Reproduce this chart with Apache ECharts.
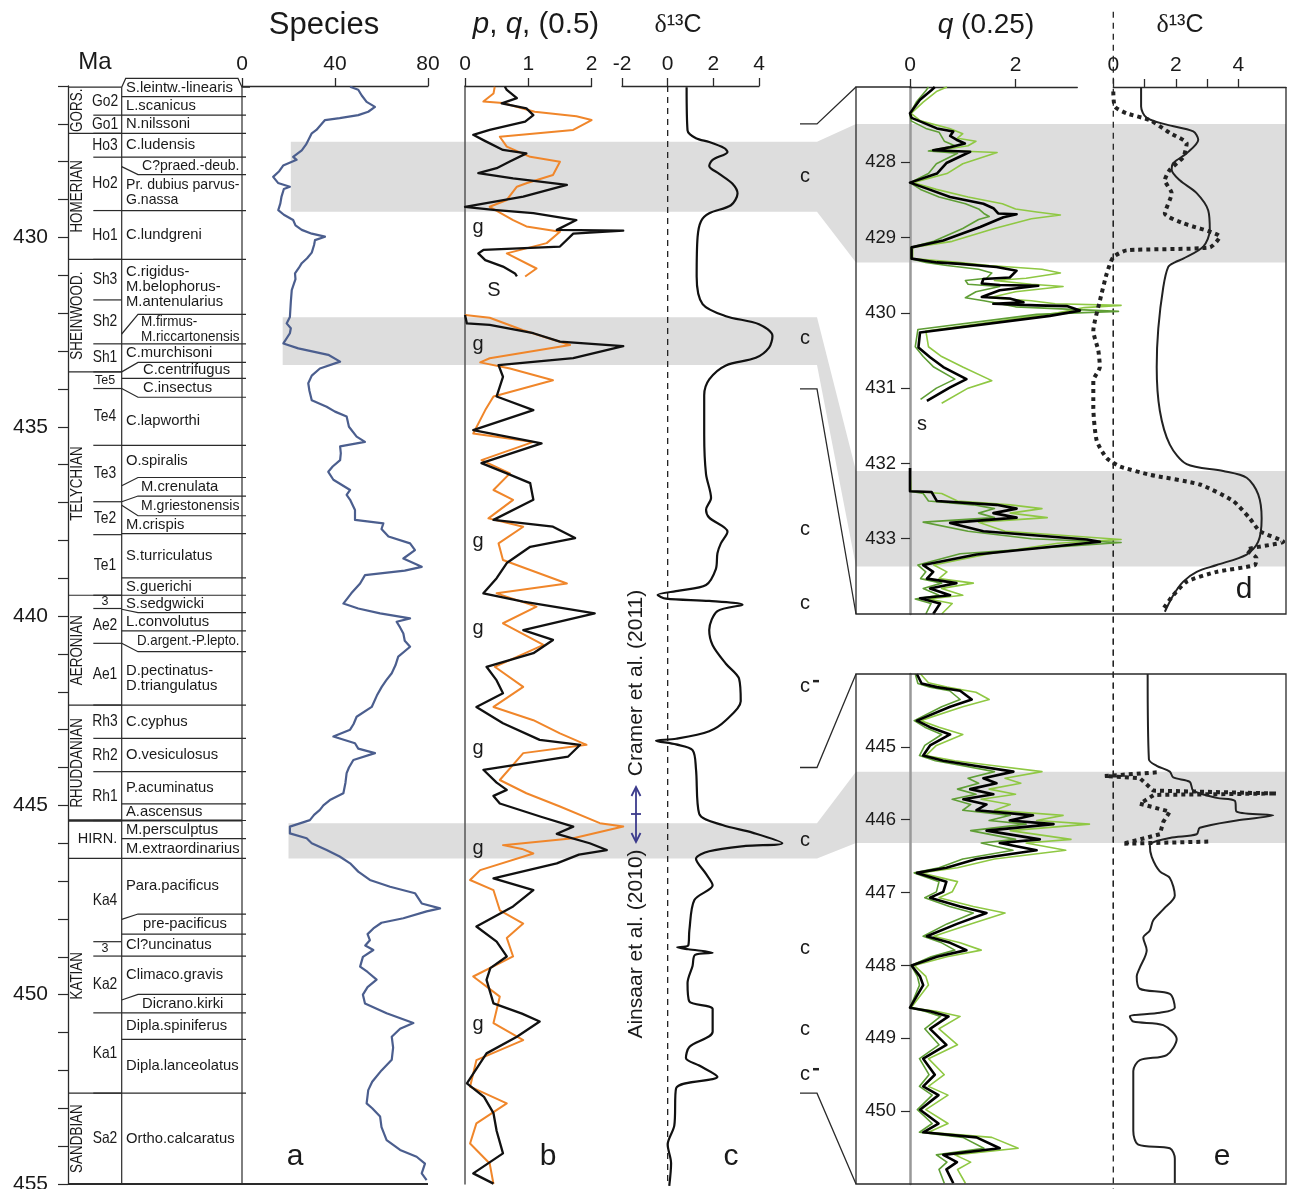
<!DOCTYPE html>
<html><head><meta charset="utf-8">
<script src="https://cdn.jsdelivr.net/npm/echarts@6/dist/echarts.min.js"></script>
<style>html,body{margin:0;padding:0;background:#fff}#c{width:1292px;height:1189px}</style>
</head><body><div id="c"></div>
<script>
// ---------------- DATA ----------------
const maTickValues = [426,427,428,429,430,431,432,433,434,435,436,437,438,439,440,441,442,443,444,445,446,447,448,449,450,451,452,453,454,455];
const maLabelValues = [430,435,440,445,450,455];
const dTickValues = [428,429,430,431,432,433];
const eTickValues = [445,446,447,448,449,450];

// stages: [topMa, bottomMa, name]
const stages = [
 [426.03,427.25,'GORS.'],[427.25,430.58,'HOMERIAN'],[430.58,433.55,'SHEINWOOD.'],
 [433.55,439.45,'TELYCHIAN'],[439.45,442.35,'AERONIAN'],[442.35,445.4,'RHUDDANIAN'],
 [445.4,446.4,'HIRN.'],[446.4,452.6,'KATIAN'],[452.6,455,'SANDBIAN']
];
// codes: [topMa, bottomMa, code]
const codes = [
 [426.03,426.77,'Go2'],[426.77,427.25,'Go1'],
 [427.25,427.88,'Ho3'],[427.88,429.29,'Ho2'],[429.29,430.58,'Ho1'],
 [430.58,431.65,'Sh3'],[431.65,432.81,'Sh2'],[432.81,433.55,'Sh1'],
 [433.55,433.99,'Te5'],[433.99,435.49,'Te4'],[435.49,436.98,'Te3'],[436.98,437.85,'Te2'],[437.85,439.45,'Te1'],
 [439.45,439.8,'3'],[439.8,440.72,'Ae2'],[440.72,442.35,'Ae1'],
 [442.35,443.23,'Rh3'],[443.23,444.11,'Rh2'],[444.11,445.4,'Rh1'],
 [446.4,448.6,'Ka4'],[448.6,448.98,'3'],[448.98,450.48,'Ka2'],[450.48,452.6,'Ka1'],
 [452.6,455,'Sa2']
];
// zones: [topMa(right), bottomMa(right), bottomMa(left), name]
const zones = [
 [425.8,426.28,426.28,'S.leintw.-linearis'],
 [426.28,426.77,426.77,'L.scanicus'],
 [426.77,427.25,427.25,'N.nilssoni'],
 [427.25,427.88,427.88,'C.ludensis'],
 [427.88,428.34,428.13,'C?praed.-deub.'],
 [428.34,429.29,429.29,'Pr. dubius parvus-\nG.nassa'],
 [429.29,430.58,430.58,'C.lundgreni'],
 [430.58,432.03,432.55,'C.rigidus-\nM.belophorus-\nM.antenularius'],
 [432.03,432.81,432.81,'M.firmus-\nM.riccartonensis'],
 [432.81,433.3,433.55,'C.murchisoni'],
 [433.3,433.72,433.72,'C.centrifugus'],
 [433.72,434.22,433.99,'C.insectus'],
 [434.22,435.49,435.49,'C.lapworthi'],
 [435.49,436.34,436.56,'O.spiralis'],
 [436.34,436.83,436.98,'M.crenulata'],
 [436.83,437.35,437.07,'M.griestonensis'],
 [437.35,437.82,437.82,'M.crispis'],
 [437.82,438.99,438.99,'S.turriculatus'],
 [438.99,439.45,439.45,'S.guerichi'],
 [439.45,439.91,439.82,'S.sedgwicki'],
 [439.91,440.39,440.39,'L.convolutus'],
 [440.39,440.94,440.72,'D.argent.-P.lepto.'],
 [440.94,442.35,442.35,'D.pectinatus-\nD.triangulatus'],
 [442.35,443.23,443.23,'C.cyphus'],
 [443.23,444.11,444.11,'O.vesiculosus'],
 [444.11,444.96,444.96,'P.acuminatus'],
 [444.96,445.4,445.4,'A.ascensus'],
 [445.4,445.88,445.88,'M.persculptus'],
 [445.88,446.4,446.4,'M.extraordinarius'],
 [446.4,447.87,448.01,'Para.pacificus'],
 [447.87,448.4,448.4,'pre-pacificus'],
 [448.4,448.98,448.98,'Cl?uncinatus'],
 [448.98,449.99,450.14,'Climaco.gravis'],
 [449.99,450.48,450.48,'Dicrano.kirki'],
 [450.48,451.18,451.18,'Dipla.spiniferus'],
 [451.18,452.6,452.6,'Dipla.lanceolatus'],
 [452.6,455,455,'Ortho.calcaratus']
];

// species: [Ma, count]
const speciesData = [
 [426.02,46.5],[426.1,50],[426.25,51.5],[426.42,53.6],[426.55,57.2],[426.68,54.3],[426.77,50],[426.85,42],[426.9,35.7],
 [427.16,32],[427.25,30],[427.43,28.5],[427.55,27.5],[427.7,25.7],[427.87,22],[427.95,23.5],[428.1,17.7],[428.25,16],
 [428.4,13.4],[428.56,15.5],[428.66,20.6],[428.72,18],[428.92,17],[429.1,16.5],[429.28,15.6],[429.4,18],[429.54,22],
 [429.68,23],[429.8,25.7],[429.9,30],[429.98,35.7],[430.07,31.4],[430.2,31],[430.4,30],[430.55,28],[430.68,25.7],
 [430.8,24.5],[430.95,22.8],[431.1,23],[431.39,21.4],[431.7,21],[432.1,20.6],[432.27,19.2],[432.4,21],[432.53,20.6],
 [432.8,17.8],[432.93,24.2],[433.1,37.1],[433.28,42.2],[433.46,33.5],[433.65,30],[433.85,28.5],[434.05,29],[434.3,30],
 [434.47,36.4],[434.6,40],[434.73,45],[435.0,46],[435.26,49.3],[435.4,52.9],[435.52,42.2],[435.7,42.5],[435.88,42.2],
 [436.05,39],[436.19,37.1],[436.4,39.3],[436.67,46.5],[436.8,45],[436.93,46.5],[437.2,48.6],[437.46,48.6],[437.55,60.8],
 [437.7,60],[437.9,63],[438.08,72.3],[438.26,74.4],[438.48,69.4],[438.7,77.3],[438.8,70],[438.92,52.9],[439.14,50.8],
 [439.4,47],[439.67,43.6],[439.8,50],[439.93,59.4],[440.06,72.3],[440.15,66.5],[440.3,68],[440.46,69.4],[440.65,70],
 [440.81,72.3],[441.07,67.2],[441.3,66],[441.51,64.4],[441.7,62],[441.87,60.1],[442.1,58],[442.4,55.8],[442.66,49.3],
 [442.85,48],[443.0,46.5],[443.18,39.3],[443.36,48.6],[443.5,50],[443.62,57.2],[443.8,47.9],[444.0,46],[444.15,45],
 [444.4,44.5],[444.68,43.6],[444.86,37.8],[445.0,35],[445.12,33.5],[445.25,31],[445.39,29.2],[445.56,20.6],[445.74,20.6],
 [445.87,27.8],[446.0,30],[446.18,36.4],[446.35,42],[446.53,46.5],[446.75,50],[446.97,55],[447.15,63.7],[447.32,74.4],
 [447.59,77.3],[447.72,85.2],[447.8,79.4],[447.98,69.4],[448.1,60],[448.25,56.5],[448.4,54],[448.56,55],[448.7,53],
 [448.82,56.5],[449.0,52],[449.26,50.8],[449.4,54],[449.6,57.9],[449.8,54],[450.0,52],[450.23,52.9],[450.49,62.2],
 [450.75,73.7],[450.9,68],[451.11,64.4],[451.4,65],[451.72,64.4],[452.0,60],[452.3,56],[452.52,54.3],[452.87,53.6],
 [453.0,56],[453.22,59.4],[453.5,60],[453.84,62.2],[454.1,68],[454.28,75.1],[454.46,78.7],[454.72,77.3],[454.9,79.4]
];

// p, q (0.5): [Ma, value]
const bBlackTop = [
 [426.02,0.63],[426.1,0.66],[426.32,0.82],[426.46,0.58],[426.59,0.97],[426.77,1.08],[426.94,0.95],[427.16,0.39],
 [427.29,0.13],[427.43,0.29],[427.69,0.6],[427.78,0.97],[428.0,0.7],[428.17,0.5],[428.3,0.21],[428.44,0.76],
 [428.61,1.61],[428.92,0.92],[429.19,0],[429.27,0.45],[429.36,1.08],[429.54,1.76],[429.8,1.45],[429.82,2.5],
 [429.9,1.71],[430.24,1.5],[430.33,0.29],[430.42,0.21],[430.6,0.32],[430.77,0.6],[430.95,0.79],[431.03,0.82]
];
const bOrangeTop = [
 [426.02,0.47],[426.2,0.45],[426.41,0.29],[426.45,0.6],[426.68,1.1],[426.8,1.76],[426.9,2.0],[427.16,1.71],
 [427.34,0.55],[427.6,0.66],[427.87,1.03],[428.0,1.5],[428.35,1.39],[428.57,0.97],[428.66,0.82],[429.01,0.66],
 [429.19,0.39],[429.54,0.76],[429.71,0.97],[429.85,1.5],[430.15,1.29],[430.42,0.66],[430.82,1.13],[431.03,0.95]
];
const bBlackBot = [
 [432.05,0],[432.27,0.03],[432.31,0.39],[432.53,1.08],[432.75,1.5],[432.87,2.5],[433.19,1.71],[433.37,0.53],
 [433.68,0.6],[434.2,0.5],[434.56,1.08],[435.09,0.13],[435.44,1.21],[435.96,0.26],[436.23,0.66],[436.49,1.03],
 [436.93,1.08],[437.46,0.45],[437.64,1.39],[437.94,1.74],[438.17,1.03],[438.6,0.66],[439.0,0.5],[439.4,0.29],
 [439.62,0.92],[439.93,2.05],[440.37,0.92],[440.63,1.39],[440.98,1.08],[441.34,0.34],[441.7,0.5],[442.04,0.6],
 [442.4,0.18],[442.83,0.6],[443.27,1.18],[443.4,1.82],[443.71,1.63],[444.06,0.29],[444.4,0.5],[444.59,0.66],
 [444.75,0.45],[444.95,0.55],[445.3,1.2],[445.56,1.71],[445.75,1.45],[446.0,1.97],[446.18,2.24],[446.3,1.8],
 [446.53,1.45],[446.93,0.45],[447.24,1.08],[447.67,0.76],[448.2,0.18],[448.6,0.5],[448.99,0.66],[449.3,0.4],
 [449.61,0.34],[450.23,0.45],[450.5,0.9],[450.71,1.18],[451.11,0.82],[451.55,0.34],[452.34,0.03],[452.7,0.3],
 [453.13,0.45],[453.6,0.5],[454.19,0.6],[454.72,0.13],[454.99,0.45]
];
const bOrangeBot = [
 [432.05,0],[432.12,0.39],[432.45,0.92],[432.84,1.66],[433.19,0.39],[433.3,0.24],[433.46,0.71],[433.77,1.39],
 [434.2,0.45],[434.56,0.32],[435.18,0.13],[435.4,1.08],[435.88,0.26],[436.23,0.71],[436.67,0.45],[436.93,0.76],
 [437.42,0.37],[437.64,0.92],[438.08,0.53],[438.52,0.6],[439.14,1.61],[439.4,0.5],[439.75,1.13],[440.19,0.6],
 [440.76,1.24],[441.34,0.47],[441.87,0.92],[442.4,0.45],[442.75,1.08],[443.1,1.5],[443.4,1.92],[443.62,0.92],
 [444.33,0.55],[444.68,0.97],[445.03,1.5],[445.47,2.13],[445.56,2.5],[445.87,1.71],[446.05,0.6],[446.15,0.9],
 [446.27,1.08],[446.71,0.24],[446.97,0.08],[447.24,0.45],[447.77,0.55],[448.12,0.92],[448.5,0.66],[448.99,0.76],
 [449.52,0.13],[450.05,0.55],[450.4,0.5],[450.75,0.45],[451.2,0.92],[451.73,0.18],[452.43,0.08],[452.87,0.66],
 [453.4,0.18],[453.93,0.08],[454.46,0.39],[455.0,0.45]
];

// delta13C composite: [Ma, permil]
const c13Main = [
 [426.03,0.83],[427.17,0.87],[427.38,1.24],[427.48,1.82],[427.64,2.48],[427.74,2.62],[427.95,1.97],[428.11,1.82],
 [428.32,2.26],[428.58,2.84],[428.84,3.06],[429.15,2.77],[429.36,1.82],[429.57,1.46],[429.99,1.31],[431.03,1.27],
 [431.76,1.53],[432.08,2.55],[432.29,4.0],[432.6,4.59],[432.91,4.44],[433.18,3.86],[433.38,2.55],[433.75,1.82],
 [434.17,1.6],[435.21,1.6],[436.25,1.68],[436.88,1.9],[437.19,1.68],[437.4,1.82],[437.77,2.62],[438.08,2.33],
 [438.34,2.18],[438.76,2.11],[439.18,1.68],[439.33,0.51],[439.44,-0.44],[439.54,-0.07],[439.6,1.82],[439.7,3.28],
 [439.87,2.18],[440.37,1.82],[440.77,1.97],[441.26,2.55],[441.66,3.13],[442.25,3.2],[442.75,2.55],[443.04,1.82],
 [443.24,0.37],[443.29,-0.51],[443.39,0.37],[443.54,1.09],[444.04,1.24],[445.22,1.38],[445.52,2.4],[445.72,3.71],
 [446.0,5.02],[446.07,3.42],[446.21,1.82],[446.41,1.24],[446.81,1.68],[447.11,1.97],[447.5,1.17],[448.3,0.95],
 [448.7,0.9],[448.75,0.42],[448.8,0.9],[448.89,1.97],[448.95,1.2],[449.24,1.09],[449.69,0.87],[450.18,0.95],
 [450.38,1.97],[450.98,1.97],[451.38,0.95],[451.67,0.8],[451.87,1.38],[452.17,2.18],[452.47,0.37],[453.46,0.29],
 [453.96,0],[454.45,0.15],[455.05,0.07]
];
const zeroLine = [[426,0],[455,0]];

// panel d  q (0.25): [Ma, value]
const dBlackTop = [
 [427.0,0.47],[427.04,0.41],[427.17,0.19],[427.35,0],[427.41,0.03],[427.55,0.51],[427.59,0.82],[427.65,0.76],
 [427.7,0.88],[427.75,1.04],[427.8,0.76],[427.84,0.44],[427.86,1.14],[428.01,0.69],[428.15,0.51],[428.27,0],
 [428.35,0.32],[428.46,0.76],[428.55,1.39],[428.61,1.58],[428.68,1.67],[428.69,2.02],[428.73,1.77],[428.86,1.33],
 [429.04,0.63],[429.13,0.03],[429.28,0.03],[429.33,0.51],[429.35,0.95],[429.39,1.64],[429.44,2.02],[429.53,1.89],
 [429.55,1.39],[429.61,1.36],[429.63,1.7],[429.64,2.43],[429.7,1.7],[429.79,1.36],[429.81,1.89],[429.86,2.15],
 [429.88,1.58],[429.9,2.4],[429.91,2.97],[429.97,3.22],[430.04,2.65],[430.26,0.19],[430.46,0.16],[430.59,0.38],
 [430.72,0.63],[430.88,1.07],[430.99,0.76],[431.17,0.32]
];
const dBlackBot = [
 [432.06,0],[432.37,0],[432.38,0.41],[432.5,0.51],[432.55,1.64],[432.6,2.02],[432.66,1.58],[432.72,2.02],
 [432.79,0.76],[432.9,1.39],[433.01,3.35],[433.04,3.6],[433.21,1.26],[433.35,0.25],[433.44,0.44],[433.53,0.32],
 [433.59,0.88],[433.66,0.38],[433.75,0.76],[433.79,0.19],[433.86,0.57],[434.0,0.44]
];
const dGreenATop = [
 [427.0,0.7],[427.06,0.5],[427.2,0.25],[427.35,0.02],[427.45,0.2],[427.55,0.75],[427.62,1.0],[427.68,0.9],
 [427.72,1.25],[427.78,1.1],[427.84,0.55],[427.87,1.65],[428.02,1.0],[428.15,0.7],[428.27,0.05],[428.36,0.5],
 [428.46,1.1],[428.55,1.75],[428.62,2.0],[428.66,2.4],[428.7,2.85],[428.75,2.3],[428.88,1.6],[429.05,0.8],
 [429.13,0.05],[429.28,0.05],[429.33,0.9],[429.37,1.5],[429.42,2.5],[429.47,2.85],[429.54,2.2],[429.57,1.6],
 [429.62,2.3],[429.65,2.9],[429.72,2.0],[429.8,1.5],[429.84,2.3],[429.88,2.75],[429.9,4.0],[429.93,3.3],
 [430.0,2.8],[430.24,0.3],[430.45,0.35],[430.58,0.6],[430.72,1.0],[430.9,1.55],[431.0,1.1],[431.2,0.6]
];
const dGreenBTop = [
 [427.0,0.35],[427.05,0.3],[427.2,0.12],[427.35,0],[427.45,0.02],[427.55,0.3],[427.6,0.55],[427.66,0.6],
 [427.72,0.65],[427.78,0.85],[427.82,0.55],[427.85,0.35],[427.88,0.9],[428.02,0.5],[428.15,0.35],[428.27,0],
 [428.36,0.2],[428.46,0.55],[428.55,1.05],[428.62,1.3],[428.68,1.4],[428.72,1.5],[428.76,1.3],[428.88,1.0],
 [429.05,0.45],[429.13,0.02],[429.28,0.02],[429.33,0.3],[429.37,0.7],[429.42,1.3],[429.47,1.55],[429.54,1.45],
 [429.57,1.05],[429.62,1.1],[429.65,1.7],[429.72,1.25],[429.8,1.05],[429.84,1.4],[429.88,1.7],[429.92,2.0],
 [429.98,3.95],[430.02,2.4],[430.22,0.15],[430.45,0.1],[430.58,0.25],[430.72,0.45],[430.88,0.85],[431.0,0.5],[431.15,0.2]
];
const dGreenABot = [
 [432.08,0],[432.37,0.02],[432.4,0.6],[432.5,0.9],[432.55,1.9],[432.6,2.5],[432.66,1.9],[432.72,2.6],
 [432.78,1.3],[432.9,1.8],[433.01,4.0],[433.06,2.8],[433.2,1.5],[433.35,0.45],[433.44,0.7],[433.53,0.55],
 [433.59,1.2],[433.66,0.6],[433.75,1.0],[433.8,0.35],[433.86,0.8],[434.0,0.6]
];
const dGreenBBot = [
 [432.08,0],[432.37,0],[432.4,0.25],[432.5,0.35],[432.55,1.2],[432.6,1.6],[432.66,1.3],[432.72,1.6],
 [432.78,0.25],[432.9,1.1],[433.0,2.3],[433.05,4.0],[433.2,0.95],[433.35,0.15],[433.44,0.3],[433.53,0.2],
 [433.59,0.6],[433.66,0.25],[433.75,0.55],[433.8,0.1],[433.86,0.4],[434.0,0.3]
];
const dC13 = [
 [427.0,0.89],[427.26,0.89],[427.41,1.07],[427.5,1.71],[427.59,2.56],[427.7,2.72],[427.88,2.35],[428.01,1.92],
 [428.1,1.87],[428.24,2.13],[428.41,2.67],[428.64,3.04],[428.9,3.09],[429.12,2.88],[429.28,2.24],[429.33,1.97],
 [429.39,1.76],[429.66,1.6],[430.21,1.44],[430.72,1.39],[431.3,1.49],[431.75,1.81],[432.01,2.35],[432.1,3.52],
 [432.19,4.27],[432.41,4.64],[432.73,4.75],[433.04,4.64],[433.21,4.27],[433.35,3.31],[433.44,2.67],[433.57,2.24],
 [433.75,1.92],[433.97,1.65]
];
const dC13Dotted = [
 [427.06,0],[427.26,0.05],[427.35,0.43],[427.44,1.17],[427.61,1.81],[427.75,2.35],[427.93,2.24],[428.1,1.81],
 [428.24,1.65],[428.41,1.87],[428.68,1.65],[428.81,2.24],[428.99,3.41],[429.13,3.09],[429.17,0.43],[429.26,0],
 [429.48,-0.21],[429.84,-0.43],[430.24,-0.64],[430.5,-0.48],[430.72,-0.43],[430.9,-0.64],[431.26,-0.64],
 [431.7,-0.53],[431.93,-0.21],[432.04,0.21],[432.15,1.17],[432.28,2.77],[432.5,3.84],[432.73,4.37],[432.9,4.69],
 [433.04,5.44],[433.15,4.27],[433.26,4.59],[433.35,4.53],[433.44,3.31],[433.57,2.35],[433.75,1.92],[433.93,1.6]
];

// panel e
const eBlack = [
 [444.0,0.13],[444.13,0.22],[444.18,0.51],[444.23,0.95],[444.35,1.17],[444.45,0.76],[444.64,0.13],[444.73,0.38],
 [444.83,0.76],[444.98,0.38],[445.12,0.25],[445.19,0.63],[445.26,1.23],[445.34,1.96],[445.43,1.39],[445.5,1.64],
 [445.58,1.14],[445.65,1.58],[445.72,1.01],[445.79,1.45],[445.87,1.26],[445.94,2.33],[446.01,1.89],[446.06,2.72],
 [446.15,1.45],[446.27,2.46],[446.32,1.7],[446.42,2.4],[446.54,1.26],[446.66,0.69],[446.73,0.13],[446.85,0.69],
 [446.99,0.63],[447.07,0.38],[447.19,0.95],[447.28,1.45],[447.43,0.89],[447.6,0.32],[447.69,0.76],[447.79,1.07],
 [447.88,0.51],[448.0,0.03],[448.15,0.19],[448.27,0.25],[448.58,0],[448.63,0.38],[448.7,0.73],[448.87,0.38],
 [449.09,0.69],[449.28,0.25],[449.5,0.47],[449.66,0.25],[449.78,0.54],[449.98,0.19],[450.17,0.54],[450.29,0.25],
 [450.36,1.26],[450.51,1.7],[450.6,0.63],[450.7,0.89],[450.8,0.69],[450.99,0.82]
];
const eGreenA = [
 [444.0,0.2],[444.12,0.35],[444.18,0.7],[444.25,1.25],[444.35,1.5],[444.45,1.0],[444.64,0.2],[444.73,0.55],
 [444.83,1.0],[444.98,0.5],[445.12,0.3],[445.19,0.85],[445.26,1.6],[445.34,2.5],[445.43,1.8],[445.5,2.1],
 [445.58,1.5],[445.65,2.0],[445.72,1.35],[445.79,1.9],[445.87,1.6],[445.94,2.9],[446.01,2.4],[446.06,3.4],
 [446.15,1.9],[446.27,3.05],[446.32,2.2],[446.42,2.95],[446.54,1.6],[446.66,0.9],[446.73,0.2],[446.85,0.9],
 [446.99,0.8],[447.07,0.55],[447.19,1.2],[447.28,1.8],[447.43,1.15],[447.6,0.45],[447.69,0.95],[447.79,1.35],
 [447.88,0.7],[448.0,0.08],[448.15,0.3],[448.27,0.35],[448.58,0.02],[448.63,0.5],[448.7,0.95],[448.87,0.55],
 [449.09,0.9],[449.28,0.35],[449.5,0.65],[449.66,0.35],[449.78,0.72],[449.98,0.3],[450.17,0.72],[450.29,0.35],
 [450.36,1.55],[450.51,2.05],[450.6,0.85],[450.7,1.15],[450.8,0.9],[450.99,1.05]
];
const eGreenB = [
 [444.0,0.1],[444.13,0.15],[444.18,0.38],[444.23,0.75],[444.35,0.95],[444.45,0.6],[444.64,0.08],[444.73,0.28],
 [444.83,0.6],[444.98,0.28],[445.12,0.18],[445.19,0.48],[445.26,1.0],[445.34,1.6],[445.43,1.1],[445.5,1.3],
 [445.58,0.9],[445.65,1.25],[445.72,0.8],[445.79,1.15],[445.87,1.0],[445.94,1.9],[446.01,1.5],[446.06,2.2],
 [446.15,1.15],[446.27,2.0],[446.32,1.35],[446.42,1.95],[446.54,1.0],[446.66,0.55],[446.73,0.08],[446.85,0.55],
 [446.99,0.5],[447.07,0.28],[447.19,0.75],[447.28,1.2],[447.43,0.7],[447.6,0.25],[447.69,0.6],[447.79,0.85],
 [447.88,0.4],[448.0,0.02],[448.15,0.14],[448.27,0.18],[448.58,0],[448.63,0.28],[448.7,0.58],[448.87,0.28],
 [449.09,0.55],[449.28,0.18],[449.5,0.36],[449.66,0.18],[449.78,0.42],[449.98,0.14],[450.17,0.42],[450.29,0.18],
 [450.36,1.0],[450.51,1.4],[450.6,0.5],[450.7,0.7],[450.8,0.55],[450.99,0.65]
];
const eC13 = [
 [444.0,1.1],[445.17,1.14],[445.26,1.39],[445.34,1.81],[445.42,1.92],[445.48,2.45],[445.6,2.56],[445.7,3.31],
 [445.74,3.89],[445.89,3.95],[445.94,5.12],[446.01,3.95],[446.11,2.77],[446.2,2.67],[446.25,1.81],[446.35,1.17],
 [446.51,1.23],[446.71,1.49],[446.8,1.81],[447.04,1.97],[447.23,1.6],[447.38,1.28],[447.52,1.17],[447.62,0.96],
 [447.79,1.07],[448.03,0.85],[448.15,0.75],[448.32,0.85],[448.39,1.81],[448.58,1.97],[448.65,1.49],[448.7,0.53],
 [448.77,0.64],[448.82,1.6],[449.01,2.03],[449.23,1.71],[449.3,0.85],[449.45,0.64],[450.27,0.64],[450.46,0.8],
 [450.51,1.81],[450.65,1.97],[450.99,1.97]
];
const eC13Dotted = [
 [445.35,1.39],[445.4,-0.27],[445.43,0.85],[445.6,1.28],[445.64,5.23],[445.66,1.3],[445.78,0.85],[445.89,1.81],
 [446.03,1.6],[446.2,1.49],[446.33,0.3],[446.3,3.04]
];

// shaded intervals: [mainTop, mainBottom, zoomTop, zoomBottom, zoomPanel, speciesStart]
const bands = [
 [427.47,429.32,427.49,429.33,'d',21],
 [432.11,433.37,432.1,433.37,'d',17.5],
 [445.47,446.4,445.34,446.32,'e',20]
];
// connectors: [mainMa, zoomMa, zoomPanel]
const connectors = [[427,427,'d'],[434,434,'d'],[444,444,'e'],[452.6,451,'e']];
// annotation labels
const cLabels = [[428.38,'c'],[432.66,'c'],[437.7,'c'],[439.66,'c'],[441.87,'c-'],[445.92,'c'],[448.77,'c'],[450.91,'c'],[452.12,'c-']];
const gLabels = [429.75,432.84,438.02,440.32,443.49,446.13,450.78];
const sLabelMain = 431.41, sLabelD = 431.48;

// ---------------- LAYOUT / STYLE ----------------
const FONT = "'Liberation Sans', Arial, Helvetica, sans-serif";
const INK = '#2a2a2a';
const COL = {stageX:10, codeL:25.3, codeR:53.7, codeX:37, zoneText:58, jogX:70, zoneR:174};
const ZONE_INDENT = {'C?praed.-deub.':74,'M.firmus-\nM.riccartonensis':73,'C.centrifugus':75,'C.insectus':75,
 'M.crenulata':73,'M.griestonensis':73,'D.argent.-P.lepto.':69,'pre-pacificus':75,'Dicrano.kirki':74};
const BOX = {left:856, right:1286, bendX:817, startX:800};
const ZONE_FONT = 14.8;

const mctx = document.createElement('canvas').getContext('2d');
function textW(text, size){ mctx.font = size + 'px ' + FONT; return Math.max.apply(null, text.split('\n').map(s => mctx.measureText(s).width)); }

const chart = echarts.init(document.getElementById('c'), null, {renderer:'canvas', width:1292, height:1189});

function g(left, top, width, height){ return {left, top, width, height, outerBoundsMode:'none', containLabel:false}; }
const MT = 86, MH = 1098;
const PX = {a:186/80, b:126.6/2, c:137/6, q:167.3/3.17, d13:172.7/5.53};
const grids = [
 g(68,MT,174,MH),            // 0 timescale
 g(242,MT,575,MH),           // 1 species data + band reference
 g(242,MT,186,MH),           // 2 a axis
 g(465,MT,126.6,MH),         // 3 b axis
 g(622,MT,137,MH),           // 4 c axis
 g(910,87,167.3,527),        // 5 d q axis
 g(1113.3,87,172.7,527),     // 6 d d13C axis
 g(910,674,167.3,510),       // 7 e q axis
 g(1113.3,674,172.7,510),    // 8 e d13C axis
 g(465,MT,PX.b*3,MH),        // 9 b data (0..3)
 g(622,MT,PX.c*8,MH),        // 10 c data (-2..6)
 g(910,87,PX.q*4.5,527),     // 11 d q data (0..4.5)
 g(1113.3-PX.d13,87,PX.d13*7,527),  // 12 d d13C data (-1..6)
 g(910,674,PX.q*4.5,510),    // 13 e q data
 g(1113.3-PX.d13,674,PX.d13*7,510)  // 14 e d13C data
];
const topLabel = {fontSize:21, color:'#1a1a1a', fontFamily:FONT, margin:11};
function topAxis(gi, min, max, ticks, labels){
  return {type:'value', gridIndex:gi, position:'top', min, max,
    axisLine:{show:true, onZero:false, lineStyle:{color:INK, width:1.3}},
    axisTick:{show:true, inside:false, length:8, customValues:ticks, lineStyle:{color:INK, width:1.3}},
    axisLabel:{show:true, customValues:labels, ...topLabel},
    splitLine:{show:false}};
}
function hiddenX(gi, min, max){ return {type:'value', gridIndex:gi, min, max, show:false, splitLine:{show:false}}; }
function hiddenY(gi, min, max){ return {type:'value', gridIndex:gi, min, max, inverse:true, show:false, splitLine:{show:false}}; }

const xAxes = [
 hiddenX(0,0,174),
 hiddenX(1,0,575/PX.a),
 topAxis(2,0,80,[0,40,80],[0,40,80]),
 topAxis(3,0,2,[0,1,2],[0,1,2]),
 topAxis(4,-2,4,[-2,0,2,4],[-2,0,2,4]),
 topAxis(5,0,3.17,[0,2],[0,2]),
 topAxis(6,0,5.53,[0,1,2,3,4],[0,2,4]),
 hiddenX(7,0,3.17),
 hiddenX(8,0,5.53),
 hiddenX(9,0,3), hiddenX(10,-2,6), hiddenX(11,0,4.5), hiddenX(12,-1,6), hiddenX(13,0,4.5), hiddenX(14,-1,6)
];
const yAxes = [
 {type:'value', gridIndex:0, min:426, max:455, inverse:true, position:'left',
  axisLine:{show:true, onZero:false, lineStyle:{color:INK, width:1.3}},
  axisTick:{show:true, inside:false, length:10, customValues:maTickValues, lineStyle:{color:INK, width:1.2}},
  axisLabel:{show:true, customValues:maLabelValues, fontSize:21, color:'#1a1a1a', fontFamily:FONT, margin:20},
  splitLine:{show:false}},
 hiddenY(1,426,455), hiddenY(2,426,455),
 {type:'value', gridIndex:3, min:426, max:455, inverse:true, position:'left',
  axisLine:{show:true, onZero:false, lineStyle:{color:'#555', width:1.5}}, axisTick:{show:false}, axisLabel:{show:false}, splitLine:{show:false}},
 hiddenY(4,426,455),
 {type:'value', gridIndex:5, min:427, max:434, inverse:true, position:'left',
  axisLine:{show:true, onZero:false, lineStyle:{color:'#999', width:2.5}},
  axisTick:{show:true, inside:false, length:9, customValues:dTickValues, lineStyle:{color:INK, width:1.2}},
  axisLabel:{show:true, customValues:dTickValues, fontSize:18.5, color:'#1a1a1a', fontFamily:FONT, margin:14},
  splitLine:{show:false}},
 hiddenY(6,427,434),
 {type:'value', gridIndex:7, min:444, max:451, inverse:true, position:'left',
  axisLine:{show:true, onZero:false, lineStyle:{color:'#999', width:2.5}},
  axisTick:{show:true, inside:false, length:9, customValues:eTickValues, lineStyle:{color:INK, width:1.2}},
  axisLabel:{show:true, customValues:eTickValues, fontSize:18.5, color:'#1a1a1a', fontFamily:FONT, margin:14},
  splitLine:{show:false}},
 hiddenY(8,444,451),
 hiddenY(9,426,455), hiddenY(10,426,455), hiddenY(11,427,434), hiddenY(12,427,434), hiddenY(13,444,451), hiddenY(14,444,451)
];

function line(data, ax, color, width, extra){
  return Object.assign({type:'line', xAxisIndex:ax, yAxisIndex:ax, data:data.map(d=>[d[1],d[0]]),
    showSymbol:false, symbol:'none', clip:false, silent:true, animation:false, z:5,
    emphasis:{disabled:true}, lineStyle:{color, width, join:'round'}}, extra||{});
}
const ORANGE = '#f0862a', BLUE = '#4b5e8e', GA = '#8fc843', GB = '#5f9e35';
const dashed = (ax) => line(zeroLine, ax, '#222', 1.3, {lineStyle:{color:'#222', width:1.3, type:[6,5]}, z:3});
const dottedStyle = {color:'#222', width:4, type:[4,4], cap:'butt'};

// --- timescale custom renderers ---
function txt(x, y, text, size, extra){
  return Object.assign({type:'text', x, y, style:{text, fill:'#1a1a1a', fontSize:size, fontFamily:FONT,
    align:'center', verticalAlign:'middle', textAlign:'center', textVerticalAlign:'middle'}}, extra||{});
}
function pl(points, w){ return {type:'polyline', shape:{points}, style:{stroke:INK, lineWidth:w||1.2, fill:null}}; }

function renderFrame(params, api){
  const c = (x,m)=>api.coord([x,m]);
  return {type:'group', children:[
    pl([c(0,426.03), c(COL.codeR,426.03)]),
    pl([c(COL.codeR,426.03), c(COL.codeR+4,425.8), c(COL.zoneR-4,425.8), c(COL.zoneR,426.03), c(COL.zoneR+8,426.03)]),
    pl([c(COL.codeR,426.03), c(COL.codeR,455)]),
    pl([c(COL.zoneR,426.03), c(COL.zoneR,455)]),
    pl([c(0,455), c(360,455)], 2)
  ]};
}
function renderStage(params, api){
  const s = stages[params.dataIndex];
  const ch = [];
  if (s[1] < 455) ch.push(pl([api.coord([0,s[1]]), api.coord([COL.codeR,s[1]])], s[1]===445.4?2.2:1.2));
  if (s[0] === 445.4) ch.push(pl([api.coord([0,s[0]]), api.coord([COL.zoneR,s[0]])], 2.2));
  const mid = (s[0]+s[1])/2;
  if (s[2] === 'HIRN.') {
    const p = api.coord([29.5, mid]);
    ch.push(txt(p[0], p[1], s[2], 14.5));
  } else {
    const p = api.coord([COL.stageX, mid]);
    ch.push(txt(p[0], p[1], s[2], 16, {rotation:Math.PI/2, scaleX:0.84}));
  }
  return {type:'group', children:ch};
}
function renderCode(params, api){
  const c = codes[params.dataIndex];
  const ch = [];
  if (c[1] < 455) ch.push(pl([api.coord([COL.codeL,c[1]]), api.coord([COL.codeR,c[1]])]));
  const small = (c[1]-c[0]) < 0.45;
  const p = api.coord([COL.codeX, (c[0]+c[1])/2]);
  ch.push(small ? txt(p[0], p[1], c[2], 12.5) : txt(p[0], p[1], c[2], 16.5, {scaleX:0.84}));
  return {type:'group', children:ch};
}
function renderZone(params, api){
  const z = zones[params.dataIndex];
  const ch = [];
  if (z[1] < 455) {
    const pts = (z[1]===z[2]) ? [api.coord([COL.codeR,z[1]]), api.coord([COL.zoneR+4,z[1]])]
      : [api.coord([COL.codeR,z[2]]), api.coord([COL.jogX,z[1]]), api.coord([COL.zoneR+4,z[1]])];
    ch.push(pl(pts));
  }
  const x = ZONE_INDENT[z[3]] || COL.zoneText;
  const p = api.coord([x, (z[0]+z[1])/2]);
  const avail = (COL.zoneR - 2.5) - x;
  const sx = Math.min(1, avail / textW(z[3], ZONE_FONT));
  ch.push({type:'text', x:p[0], y:p[1], scaleX:sx, style:{text:z[3], fill:'#1a1a1a', fontSize:ZONE_FONT, fontFamily:FONT, lineHeight:15,
    align:'left', verticalAlign:'middle', textAlign:'left', textVerticalAlign:'middle'}});
  return {type:'group', children:ch};
}
function custom(data, fn){ return {type:'custom', xAxisIndex:0, yAxisIndex:0, clip:false, silent:true, animation:false,
  renderItem:fn, data:data.map(d=>[0,d[0]]), z:4}; }

const series = [
 custom([[426]], renderFrame), custom(stages, renderStage), custom(codes, renderCode), custom(zones, renderZone),
 line(speciesData, 1, BLUE, 2.2),
 line(bOrangeTop, 9, ORANGE, 2), line(bOrangeBot, 9, ORANGE, 2),
 line(bBlackTop, 9, '#111', 2.3, {z:6}), line(bBlackBot, 9, '#111', 2.3, {z:6}),
 dashed(10), line(c13Main, 10, '#111', 2.2, {smooth:0.3}),
 line(dGreenATop, 11, GA, 1.6), line(dGreenABot, 11, GA, 1.6),
 line(dGreenBTop, 11, GB, 1.6), line(dGreenBBot, 11, GB, 1.6),
 line(dBlackTop, 11, '#000', 2.6, {z:6}), line(dBlackBot, 11, '#000', 2.6, {z:6}),
 dashed(12), line(dC13, 12, '#222', 2, {smooth:0.3}),
 line(dC13Dotted, 12, '#222', 4, {smooth:0.2, lineStyle:dottedStyle}),
 line(eGreenA, 13, GA, 1.6), line(eGreenB, 13, GB, 1.6), line(eBlack, 13, '#000', 2.6, {z:6}),
 dashed(14), line(eC13, 14, '#222', 2, {smooth:0.3}),
 line(eC13Dotted, 14, '#222', 4, {lineStyle:dottedStyle})
];

chart.setOption({animation:false, backgroundColor:'#fff', grid:grids, xAxis:xAxes, yAxis:yAxes, series});

// ---------------- overlay graphics (positions converted through axes) ----------------
const yOf = (axis, v) => chart.convertToPixel({yAxisIndex:axis}, v);
const xOf = (axis, v) => chart.convertToPixel({xAxisIndex:axis}, v);
const zoomAxis = {d:5, e:7};
const G = [];
bands.forEach(b => {
  const xs = xOf(1, b[5]);
  const y1 = yOf(1,b[0]), y2 = yOf(1,b[1]);
  const za = zoomAxis[b[4]];
  const z1 = yOf(za,b[2]), z2 = yOf(za,b[3]);
  G.push({type:'polygon', z:-5, silent:true, shape:{points:[[xs,y1],[BOX.bendX,y1],[BOX.left,z1],[BOX.right,z1],[BOX.right,z2],[BOX.left,z2],[BOX.bendX,y2],[xs,y2]]},
    style:{fill:'#dddddd'}});
});
const dTop = yOf(5,427), dBot = yOf(5,434), eTop = yOf(7,444), eBot = yOf(7,451);
const qx0 = xOf(5,0);
G.push({type:'polyline', z:10, silent:true, shape:{points:[[qx0,dTop],[BOX.left,dTop],[BOX.left,dBot],[BOX.right,dBot],[BOX.right,dTop]]}, style:{stroke:INK, lineWidth:1.3, fill:null}});
G.push({type:'rect', z:10, silent:true, shape:{x:BOX.left, y:eTop, width:BOX.right-BOX.left, height:eBot-eTop}, style:{stroke:INK, lineWidth:1.3, fill:null}});
connectors.forEach(c => {
  const ym = yOf(1,c[0]), yz = yOf(zoomAxis[c[2]], c[1]);
  G.push({type:'polyline', z:10, silent:true, shape:{points:[[BOX.startX,ym],[BOX.bendX,ym],[BOX.left,yz]]}, style:{stroke:INK, lineWidth:1.3, fill:null}});
});
function T(x, y, text, size, extra){
  const st = Object.assign({text, fill:'#1a1a1a', fontSize:size, fontFamily:FONT, align:'center', verticalAlign:'middle', textAlign:'center', textVerticalAlign:'middle'}, (extra&&extra.style)||{});
  const o = {type:'text', z:20, silent:true, x, y, style:st};
  if (extra && extra.rotation) o.rotation = extra.rotation;
  return o;
}
const ital = size => ({i:{fontStyle:'italic', fontSize:size, fontFamily:FONT, fill:'#1a1a1a'}});
// titles
G.push(T(324,25,'Species',31));
G.push(T(536,25,'{i|p}, {i|q}, (0.5)',29.5,{style:{rich:ital(29.5)}}));
G.push(T(678,25,'{d|δ}¹³C',25,{style:{rich:{d:{fontFamily:"'Liberation Serif', serif", fontSize:26, fill:'#1a1a1a'}}}}));
G.push(T(986,25,'{i|q} (0.25)',28,{style:{rich:ital(28)}}));
G.push(T(1180,25,'{d|δ}¹³C',25,{style:{rich:{d:{fontFamily:"'Liberation Serif', serif", fontSize:26, fill:'#1a1a1a'}}}}));
G.push(T(95,62,'Ma',24));
// panel letters
G.push(T(295,1157,'a',30)); G.push(T(548,1157,'b',30)); G.push(T(731,1157,'c',30));
G.push(T(1244,590,'d',30)); G.push(T(1222,1157,'e',30));
// labels
cLabels.forEach(l => {
  const y = yOf(1,l[0]);
  G.push(T(805,y,'c',20));
  if (l[1]==='c-') G.push({type:'rect', z:20, silent:true, shape:{x:813, y:y-7, width:6, height:2.5}, style:{fill:'#222'}});
});
gLabels.forEach(m => G.push(T(478, yOf(1,m), 'g', 20)));
G.push(T(494, yOf(1,sLabelMain), 'S', 20));
G.push(T(922, yOf(5,sLabelD), 's', 20));
// references
G.push(T(636,683,'Cramer et al. (2011)',21,{rotation:Math.PI/2}));
G.push(T(636,944,'Ainsaar et al. (2010)',21,{rotation:Math.PI/2}));
const AC = '#3b3a8c';
G.push({type:'line', z:20, silent:true, shape:{x1:636,y1:788,x2:636,y2:841}, style:{stroke:AC, lineWidth:1.8}});
G.push({type:'polyline', z:20, silent:true, shape:{points:[[631.5,796],[636,787],[640.5,796]]}, style:{stroke:AC, lineWidth:1.8, fill:null}});
G.push({type:'polyline', z:20, silent:true, shape:{points:[[631.5,833],[636,842],[640.5,833]]}, style:{stroke:AC, lineWidth:1.8, fill:null}});
G.push({type:'line', z:20, silent:true, shape:{x1:631,y1:814,x2:641,y2:814}, style:{stroke:AC, lineWidth:1.8}});

chart.setOption({graphic:{elements:G}});
</script></body></html>
